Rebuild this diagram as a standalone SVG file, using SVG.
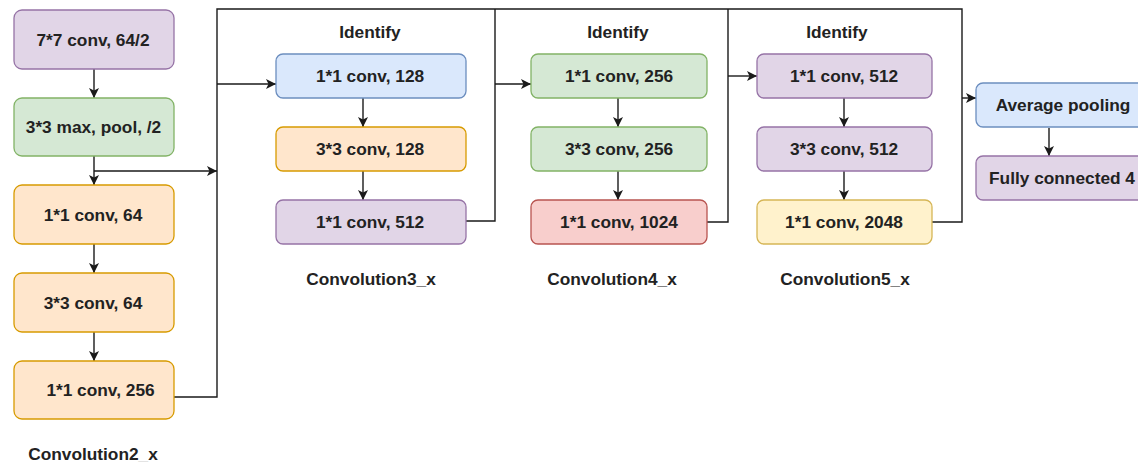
<svg xmlns="http://www.w3.org/2000/svg" width="1138" height="462" viewBox="0 0 1138 462">
<defs>
<style>
.b{stroke-width:1.3}
.pu{fill:#e1d5e7;stroke:#9673a6}
.gr{fill:#d5e8d4;stroke:#82b366}
.or{fill:#ffe6cc;stroke:#d79b00}
.bl{fill:#dae8fc;stroke:#6c8ebf}
.rd{fill:#f8cecc;stroke:#b85450}
.ye{fill:#fff2cc;stroke:#d6b656}
text{font-family:"Liberation Sans",Arial,sans-serif;font-weight:bold;font-size:17.3px;fill:#222;text-anchor:middle}
.c{fill:none;stroke:#1a1a1a;stroke-width:1.4}
</style>
<marker id="ah" viewBox="0 0 10 10" refX="10" refY="5" markerWidth="10" markerHeight="10" markerUnits="userSpaceOnUse" orient="auto">
<path d="M0,0 L10,5 L0,10 L2.5,5 Z" fill="#1a1a1a"/>
</marker>
<clipPath id="bottomclip"><rect x="0" y="0" width="1138" height="461.2"/></clipPath>
</defs>
<rect width="1138" height="462" fill="#ffffff"/>

<g id="connectors">
<path class="c" d="M94,69 V98" marker-end="url(#ah)"/>
<path class="c" d="M94,156 V185" marker-end="url(#ah)"/>
<path class="c" d="M94,171 H217" marker-end="url(#ah)"/>
<path class="c" d="M94,244 V273" marker-end="url(#ah)"/>
<path class="c" d="M94,332 V361" marker-end="url(#ah)"/>
<path class="c" d="M174,397 H217 V9 H962 V222 H932"/>
<path class="c" d="M217,84 H276" marker-end="url(#ah)"/>
<path class="c" d="M363,98 V127" marker-end="url(#ah)"/>
<path class="c" d="M363,171 V200" marker-end="url(#ah)"/>
<path class="c" d="M466,221 H495 V9"/>
<path class="c" d="M495,84 H531" marker-end="url(#ah)"/>
<path class="c" d="M618,98 V127" marker-end="url(#ah)"/>
<path class="c" d="M618,171 V200" marker-end="url(#ah)"/>
<path class="c" d="M707,222 H728 V9"/>
<path class="c" d="M728,76 H757" marker-end="url(#ah)"/>
<path class="c" d="M844,98 V127" marker-end="url(#ah)"/>
<path class="c" d="M844,171 V200" marker-end="url(#ah)"/>
<path class="c" d="M962,98 H976" marker-end="url(#ah)"/>
<path class="c" d="M1049,128 V156" marker-end="url(#ah)"/>
</g>

<g id="conv1"><rect class="b pu" x="14" y="10" width="160" height="59" rx="8"/><text x="93" y="45.5">7*7 conv, 64/2</text></g>
<g id="maxpool"><rect class="b gr" x="14" y="98" width="160" height="58" rx="8"/><text x="93.5" y="133">3*3 max, pool, /2</text></g>
<g id="c2a"><rect class="b or" x="14" y="185" width="160" height="59" rx="8"/><text x="93" y="220.5">1*1 conv, 64</text></g>
<g id="c2b"><rect class="b or" x="14" y="273" width="160" height="59" rx="8"/><text x="93" y="308.5">3*3 conv, 64</text></g>
<g id="c2c"><rect class="b or" x="14" y="361" width="160" height="58" rx="8"/><text x="100.5" y="396">1*1 conv, 256</text></g>
<g id="label2" clip-path="url(#bottomclip)"><text x="93" y="460">Convolution2_x</text></g>

<g id="id3"><text x="370" y="38">Identify</text></g>
<g id="c3a"><rect class="b bl" x="276" y="54" width="190" height="44" rx="7"/><text x="370" y="82">1*1 conv, 128</text></g>
<g id="c3b"><rect class="b or" x="276" y="127" width="190" height="44" rx="7"/><text x="370" y="155">3*3 conv, 128</text></g>
<g id="c3c"><rect class="b pu" x="276" y="200" width="190" height="44" rx="7"/><text x="370" y="228">1*1 conv, 512</text></g>
<g id="label3"><text x="371" y="285">Convolution3_x</text></g>

<g id="id4"><text x="618" y="38">Identify</text></g>
<g id="c4a"><rect class="b gr" x="531" y="54" width="176" height="44" rx="7"/><text x="619" y="82">1*1 conv, 256</text></g>
<g id="c4b"><rect class="b gr" x="531" y="127" width="176" height="44" rx="7"/><text x="619" y="155">3*3 conv, 256</text></g>
<g id="c4c"><rect class="b rd" x="531" y="200" width="176" height="44" rx="7"/><text x="619" y="228">1*1 conv, 1024</text></g>
<g id="label4"><text x="612" y="285">Convolution4_x</text></g>

<g id="id5"><text x="837" y="38">Identify</text></g>
<g id="c5a"><rect class="b pu" x="757" y="54" width="175" height="44" rx="7"/><text x="844" y="82">1*1 conv, 512</text></g>
<g id="c5b"><rect class="b pu" x="757" y="127" width="175" height="44" rx="7"/><text x="844" y="155">3*3 conv, 512</text></g>
<g id="c5c"><rect class="b ye" x="757" y="200" width="175" height="44" rx="7"/><text x="844" y="228">1*1 conv, 2048</text></g>
<g id="label5"><text x="845" y="285">Convolution5_x</text></g>

<g id="avgpool"><rect class="b bl" x="976" y="83" width="176" height="44" rx="7"/><text x="1063" y="111">Average pooling</text></g>
<g id="fc"><rect class="b pu" x="976" y="156" width="176" height="44" rx="7"/><text x="1062" y="184">Fully connected 4</text></g>
</svg>
